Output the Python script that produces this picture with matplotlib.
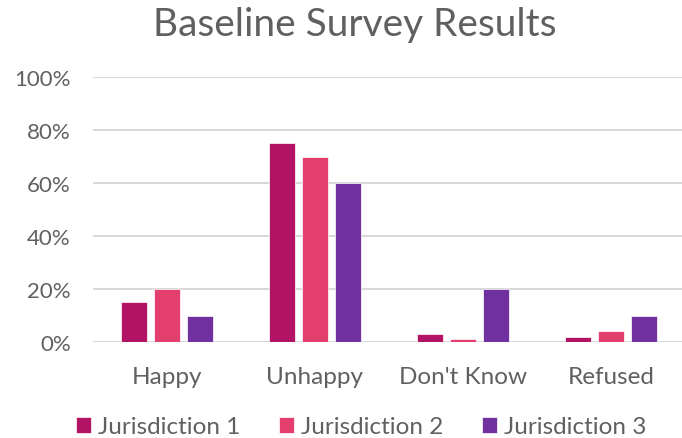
import numpy as np
import matplotlib.pyplot as plt
from matplotlib.ticker import PercentFormatter

categories = ["Happy", "Unhappy", "Don't Know", "Refused"]
series_names = ["Jurisdiction 1", "Jurisdiction 2", "Jurisdiction 3"]
jur1 = [15, 75, 3, 2]
jur2 = [20, 70, 1, 4]
jur3 = [10, 60, 20, 10]
colors = ["#B31364", "#E33F6E", "#7030A0"]

plt.rcParams['font.family'] = ['Lato', 'DejaVu Sans']
text_color = "#606060"

fig = plt.figure(figsize=(6.82, 4.39), dpi=100)
ax = fig.add_axes([93 / 682, 1 - 343 / 439, (685 - 93) / 682, (343 - 78) / 439])

x = np.arange(len(categories))
width = 0.176
offset = 0.222
for i, (vals, name) in enumerate(zip([jur1, jur2, jur3], series_names)):
    ax.bar(x + (i - 1) * offset, vals, width, color=colors[i], label=name,
           edgecolor="white", linewidth=0.5, zorder=3)

ax.set_xlim(-0.5, 3.5)
ax.set_ylim(0, 100)
ax.set_yticks(range(0, 101, 20))
ax.yaxis.set_major_formatter(PercentFormatter(decimals=0))
ax.set_xticks(x)
ax.set_xticklabels(categories)
ax.grid(axis='y', color="#D9D9D9", linewidth=1.5, zorder=0)
for s in ax.spines.values():
    s.set_visible(False)
ax.tick_params(length=0, colors=text_color)
ax.tick_params(axis='y', pad=16, labelsize=16)
ax.tick_params(axis='x', pad=17, labelsize=17.5)
for lbl in ax.get_yticklabels():
    lbl.set_horizontalalignment('right')

fig.text(0.52, 1 - 25 / 439, "Baseline Survey Results", ha='center', va='center',
         fontsize=28, color=text_color)

fig.legend(loc='center', bbox_to_anchor=(0.53, 1 - 428 / 439), ncol=3, frameon=False,
           fontsize=17.5, labelcolor=text_color, handlelength=0.6, handleheight=0.6,
           handletextpad=0.3, columnspacing=1.6)

fig.savefig("out.png", dpi=100)
